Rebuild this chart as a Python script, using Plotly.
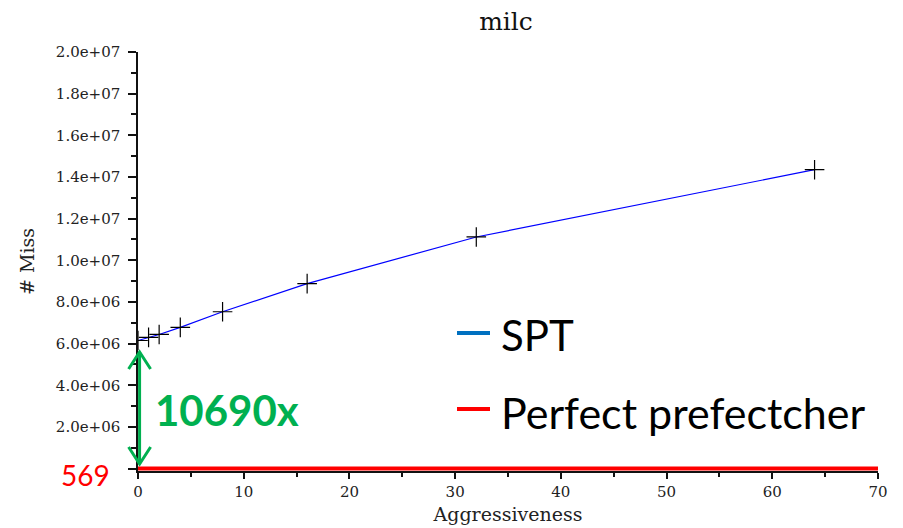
import plotly.graph_objects as go

# ---- data ----
aggressiveness = [0, 1, 2, 4, 8, 16, 32, 64]
spt_miss = [6.15e6, 6.3e6, 6.44e6, 6.78e6, 7.53e6, 8.88e6, 11.12e6, 14.35e6]
perfect_x = [0, 70]
perfect_miss = [569, 569]

y_tickvals = [0, 2e6, 4e6, 6e6, 8e6, 1e7, 1.2e7, 1.4e7, 1.6e7, 1.8e7, 2e7]
y_ticktext = ["", "2.0e+06", "4.0e+06", "6.0e+06", "8.0e+06", "1.0e+07",
              "1.2e+07", "1.4e+07", "1.6e+07", "1.8e+07", "2.0e+07"]
x_tickvals = [0, 10, 20, 30, 40, 50, 60, 70]
x_ticktext = ["0", "10", "20", "30", "40", "50", "60", "70"]

ratio_label = "10690x"
perfect_label = "569"

W, H = 903, 528
L, R, T, B = 138, 25, 52, 57
PW, PH = W - L - R, H - T - B
YMIN, YMAX = -1.15e5, 2e7
XMIN, XMAX = 0, 70


def px(xp):
    return (xp - L) / PW


def py(yp):
    return (H - B - yp) / PH


def ydata_to_paper(v):
    return (v - YMIN) / (YMAX - YMIN)


def xdata_to_paper(v):
    return (v - XMIN) / (XMAX - XMIN)


serif = "DejaVu Serif"
sans = "Lato"
green = "#00B050"

fig = go.Figure()
fig.add_trace(go.Scatter(
    x=perfect_x, y=perfect_miss, mode="lines",
    line=dict(color="#FF0000", width=4), showlegend=False, hoverinfo="skip"))
fig.add_trace(go.Scatter(
    x=aggressiveness, y=spt_miss, mode="lines+markers",
    line=dict(color="#0000FF", width=1.2),
    marker=dict(symbol="cross-thin", size=14, color="black",
                line=dict(color="black", width=1.2)),
    showlegend=False))

axis_common = dict(showgrid=False, zeroline=False, showline=True,
                   linecolor="#111", linewidth=1.5, ticks="outside",
                   tickcolor="#111", tickwidth=1.5, automargin=False,
                   tickfont=dict(family=serif, size=15, color="#222"))

fig.update_layout(
    width=W, height=H,
    margin=dict(l=L, r=R, t=T, b=B, pad=0, autoexpand=False),
    plot_bgcolor="white", paper_bgcolor="white",
    title=dict(text="milc", x=506 / W, xanchor="center", y=1 - 21 / H,
               yanchor="middle", font=dict(family=serif, size=25, color="#111")),
    xaxis=dict(range=[XMIN, XMAX], tickmode="array", tickvals=x_tickvals,
               ticktext=x_ticktext, ticklen=6,
               minor=dict(dtick=5, tick0=0, ticklen=4, ticks="outside",
                          tickcolor="#111", tickwidth=1.5),
               title=dict(text="Aggressiveness", standoff=8,
                          font=dict(family=serif, size=19, color="#222")),
               **axis_common),
    yaxis=dict(range=[YMIN, YMAX], tickmode="array", tickvals=y_tickvals,
               ticktext=y_ticktext, ticklen=8, ticklabelstandoff=5,
               minor=dict(dtick=1e6, tick0=0, ticklen=5, ticks="outside",
                          tickcolor="#111", tickwidth=1.5),
               title=dict(text="# Miss", standoff=16,
                          font=dict(family=serif, size=19, color="#222")),
               **axis_common),
)

# legend swatches and labels
fig.add_shape(type="line", xref="paper", yref="paper",
              x0=px(457), x1=px(490), y0=py(333), y1=py(333),
              line=dict(color="#0070C0", width=4))
fig.add_shape(type="line", xref="paper", yref="paper",
              x0=px(457), x1=px(490), y0=py(409), y1=py(409),
              line=dict(color="#FF0000", width=4))
fig.add_annotation(text="SPT", xref="paper", yref="paper", x=px(499), y=py(335),
                   xanchor="left", yanchor="middle", showarrow=False,
                   font=dict(family=sans, size=42, color="black"))
fig.add_annotation(text="Perfect prefectcher", xref="paper", yref="paper",
                   x=px(499), y=py(412), xanchor="left", yanchor="middle",
                   showarrow=False, font=dict(family=sans, size=43, color="black"))

# ratio arrow (paper refs so it is not clipped by the plot area)
arrow_x = xdata_to_paper(0.15)
arrow_top = ydata_to_paper(5.6e6)
arrow_bot = ydata_to_paper(2.2e5)
fig.add_shape(type="line", xref="paper", yref="paper", x0=arrow_x, x1=arrow_x,
              y0=arrow_bot, y1=arrow_top, line=dict(color=green, width=3))
fig.add_shape(type="path", xref="paper", yref="paper", xsizemode="pixel",
              ysizemode="pixel", xanchor=arrow_x, yanchor=arrow_top,
              path="M -11,-17 L 0,0 L 11,-17", line=dict(color=green, width=3))
fig.add_shape(type="path", xref="paper", yref="paper", xsizemode="pixel",
              ysizemode="pixel", xanchor=arrow_x, yanchor=arrow_bot,
              path="M -11,17 L 0,0 L 11,17", line=dict(color=green, width=3))
fig.add_annotation(text="<b>" + ratio_label + "</b>", xref="paper", yref="paper",
                   x=px(153), y=py(410), xanchor="left", yanchor="middle",
                   showarrow=False, font=dict(family=sans, size=42, color=green))
fig.add_annotation(text=perfect_label, xref="paper", yref="paper",
                   x=px(85), y=py(475), xanchor="center", yanchor="middle",
                   showarrow=False, font=dict(family=sans, size=28, color="#FF0000"))

fig.write_html("out.html", config={"displayModeBar": False},
               post_script="document.body.style.margin='0';"
                           "document.body.style.overflow='hidden';")
